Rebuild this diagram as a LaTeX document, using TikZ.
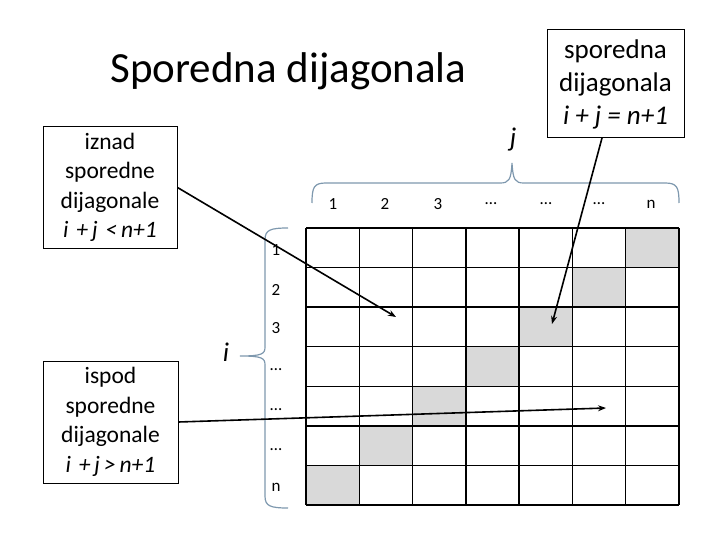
\documentclass[tikz,border=0pt]{standalone}
\usepackage{fontspec}
\setmainfont{Carlito}
\usetikzlibrary{arrows.meta}
\definecolor{bracecol}{HTML}{7E98AE}
\definecolor{cellgray}{HTML}{D9D9D9}
\tikzset{
  infobox/.style={draw=black, line width=1pt, align=flush center, inner sep=0pt},
  pointer/.style={line width=1.6pt, -{Stealth[length=8pt,width=6pt]}},
  bracepath/.style={draw=bracecol, line width=1.2pt},
  idxlabel/.style={font=\fontsize{17}{20}\selectfont},
  varlabel/.style={font=\fontsize{27}{32}\selectfont\itshape},
  gridline/.style={line width=1.5pt, black}
}
\begin{document}
\begin{tikzpicture}[x=1pt,y=-1pt]
\useasboundingbox (0,0) rectangle (720,540);
% title
\node[anchor=base, font=\fontsize{43}{50}\selectfont] (title) at (288.5,83) {Sporedna dijagonala};
% boxes
\node[infobox, minimum width=134pt, minimum height=121pt, text width=134pt, font=\fontsize{23.5}{29.5}\selectfont] (above) at (110,187.5)
  {iznad\\sporedne\\dijagonale\\{\itshape i\,\,+\,j\,\,<\,n+1}};
\node[infobox, minimum width=135pt, minimum height=122pt, text width=135pt, font=\fontsize{23.5}{29.5}\selectfont] (below) at (110.5,422)
  {ispod\\sporedne\\dijagonale\\{\itshape i\,\,+\,j\,>\,n+1}};
\node[infobox, minimum width=137pt, minimum height=108pt, text width=137pt, font=\fontsize{27}{33}\selectfont] (diag) at (615.5,84)
  {sporedna\\dijagonala\\{\itshape i + j = n+1}};
% grid cells shaded
\foreach \r in {0,...,6}{
  \pgfmathsetmacro{\cx}{306+(6-\r)*53.29}
  \pgfmathsetmacro{\cy}{228+\r*39.57}
  \fill[cellgray] (\cx,\cy) rectangle ++(53.29,39.57);
}
% grid lines
\foreach \k in {0,...,7}{
  \draw[gridline] (306+\k*53.29,228) -- (306+\k*53.29,505);
  \draw[gridline] (306,228+\k*39.57) -- (679,228+\k*39.57);
}
% column labels
\foreach \x/\t [count=\c] in {333/1,385/2,438/3,491/\dots,546/\dots,599/\dots,651/n}{
  \node[idxlabel] (col\c) at (\x,204) {\t};
}
% row labels
\foreach \y/\t [count=\c] in {250/1,290/2,328/3,370/\dots,410/\dots,450/\dots,487/n}{
  \node[idxlabel] (row\c) at (276,\y) {\t};
}
% braces
\draw[bracepath] (312,203) .. controls (312,187) and (314,183) .. (326,183) -- (500,183)
  .. controls (509,183) and (511,180) .. (512,163) .. controls (513,180) and (515,183) .. (524,183)
  -- (665,183) .. controls (677,183) and (679,187) .. (679,203);
\draw[bracepath] (288,228) .. controls (270,228) and (265,230) .. (265,240) -- (265,347)
  .. controls (265,354) and (262,356) .. (240,356) .. controls (262,356) and (265,358) .. (265,365)
  -- (265,496) .. controls (265,506) and (270,508) .. (288,508);
% variable labels
\node[varlabel] (jlab) at (513,140) {j};
\node[varlabel] (ilab) at (226,352) {i};
% pointer targets
\coordinate (tAbove) at (396,317);
\coordinate (tBelow) at (606,408);
\coordinate (tDiag) at (552,324);
\coordinate (sDiag) at (602,138);
\draw[pointer] (above.east) -- (tAbove);
\draw[pointer] (below.east) -- (tBelow);
\draw[pointer] (sDiag) -- (tDiag);
\end{tikzpicture}
\end{document}
